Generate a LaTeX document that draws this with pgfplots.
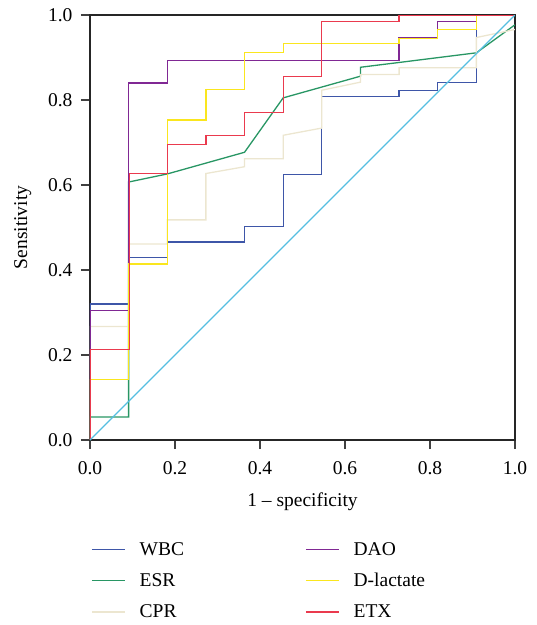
\documentclass[border=0pt]{standalone}
\usepackage{fontspec}
\setmainfont{Liberation Serif}
\usepackage{pgfplots}
\pgfplotsset{compat=1.18}
\definecolor{cWBC}{RGB}{62,86,168}
\definecolor{cESR}{RGB}{40,150,100}
\definecolor{cCPR}{RGB}{236,230,208}
\definecolor{cDAO}{RGB}{128,40,148}
\definecolor{cDL}{RGB}{250,230,30}
\definecolor{cETX}{RGB}{234,58,78}
\definecolor{cDiag}{RGB}{85,190,225}
\newcommand{\chfont}{\fontsize{19.5}{23}\selectfont}
\begin{document}
\begin{tikzpicture}
\path[use as bounding box] (-90pt,-185pt) rectangle (447pt,440pt);
\begin{axis}[
  width=425pt, height=425pt, scale only axis,
  xmin=0, xmax=1, ymin=0, ymax=1,
  xtick={0,0.2,0.4,0.6,0.8,1},
  ytick={0,0.2,0.4,0.6,0.8,1},
  xticklabels={0.0,0.2,0.4,0.6,0.8,1.0},
  yticklabels={0.0,0.2,0.4,0.6,0.8,1.0},
  tick align=outside,
  major tick length=9pt,
  tick style={line width=1.1pt, black!75},
  axis line style={line width=1.2pt, black!85},
  xtick pos=bottom, ytick pos=left,
  ticklabel style={font=\chfont},
  xticklabel style={yshift=-9pt},
  yticklabel style={xshift=-5pt},
  xlabel={1 -- specificity},
  ylabel={Sensitivity},
  every axis x label/.style={at={(axis description cs:0.5,0)}, anchor=base, yshift=-66pt, font=\chfont},
  every axis y label/.style={at={(axis description cs:-0.158,0.5)}, rotate=90, anchor=center, font=\chfont},
  legend columns=2,
  legend cell align=left,
  legend style={draw=none, fill=none, at={(0,0)}, anchor=north west,
    xshift=1pt, yshift=-102pt, inner sep=0pt,
    font=\chfont,
    row sep=16.5pt,
    nodes={inner sep=0pt},
    /tikz/every odd column/.append style={column sep=14pt},
    /tikz/every even column/.append style={column sep=121pt}},
  legend image code/.code={\draw[#1] (0pt,0pt) -- (33pt,0pt);},
  every axis plot/.append style={line width=1.3pt},
]
% WBC
\addplot[color=cWBC, forget plot] coordinates {(0,0) (0,0.32) (0.0909,0.32) (0.0909,0.429) (0.1818,0.429) (0.1818,0.466) (0.3636,0.466) (0.3636,0.502) (0.4545,0.502) (0.4545,0.624) (0.5454,0.624) (0.5454,0.808) (0.7273,0.808) (0.7273,0.823) (0.8182,0.823) (0.8182,0.842) (0.9091,0.842) (0.9091,1) (1,1)};
% ESR
\addplot[color=cESR, forget plot] coordinates {(0,0) (0,0.054) (0.0909,0.054) (0.0909,0.607) (0.1818,0.626) (0.3636,0.677) (0.4545,0.805) (0.6364,0.856) (0.6364,0.877) (0.9091,0.911) (1,0.977)};
% CPR
\addplot[color=cCPR, forget plot] coordinates {(0,0) (0,0.267) (0.0909,0.267) (0.0909,0.461) (0.1818,0.461) (0.1818,0.518) (0.2727,0.518) (0.2727,0.627) (0.3636,0.643) (0.3636,0.662) (0.4545,0.662) (0.4545,0.717) (0.5454,0.734) (0.5454,0.823) (0.6364,0.842) (0.6364,0.86) (0.7273,0.86) (0.7273,0.876) (0.9091,0.876) (0.9091,0.947) (1,0.966)};
% DAO
\addplot[color=cDAO, forget plot] coordinates {(0,0) (0,0.304) (0.0909,0.304) (0.0909,0.84) (0.1818,0.84) (0.1818,0.893) (0.7273,0.893) (0.7273,0.947) (0.8182,0.947) (0.8182,0.984) (0.9091,0.984) (0.9091,1) (1,1)};
% D-lactate
\addplot[color=cDL, forget plot] coordinates {(0,0) (0,0.143) (0.0909,0.143) (0.0909,0.414) (0.1818,0.414) (0.1818,0.753) (0.2727,0.753) (0.2727,0.824) (0.3636,0.824) (0.3636,0.912) (0.4545,0.912) (0.4545,0.933) (0.7273,0.933) (0.7273,0.945) (0.8182,0.945) (0.8182,0.966) (0.9091,0.966) (0.9091,1) (1,1)};
% ETX
\addplot[color=cETX, forget plot] coordinates {(0,0) (0,0.213) (0.0925,0.213) (0.0925,0.627) (0.1818,0.627) (0.1818,0.696) (0.2727,0.696) (0.2727,0.716) (0.3636,0.716) (0.3636,0.77) (0.4545,0.77) (0.4545,0.856) (0.5454,0.856) (0.5454,0.984) (0.7273,0.984) (0.7273,1) (1,1)};
% reference diagonal
\addplot[color=cDiag, line width=1.1pt, forget plot] coordinates {(0,0) (1,1)};
% legend (row-wise order)
\addlegendimage{color=cWBC, line width=1.5pt}\addlegendentry{WBC}
\addlegendimage{color=cDAO, line width=1.5pt}\addlegendentry{DAO}
\addlegendimage{color=cESR, line width=1.5pt}\addlegendentry{ESR}
\addlegendimage{color=cDL, line width=1.5pt}\addlegendentry{D-lactate}
\addlegendimage{color=cCPR, line width=1.5pt}\addlegendentry{CPR}
\addlegendimage{color=cETX, line width=1.5pt}\addlegendentry{ETX}
\end{axis}
\end{tikzpicture}
\end{document}
